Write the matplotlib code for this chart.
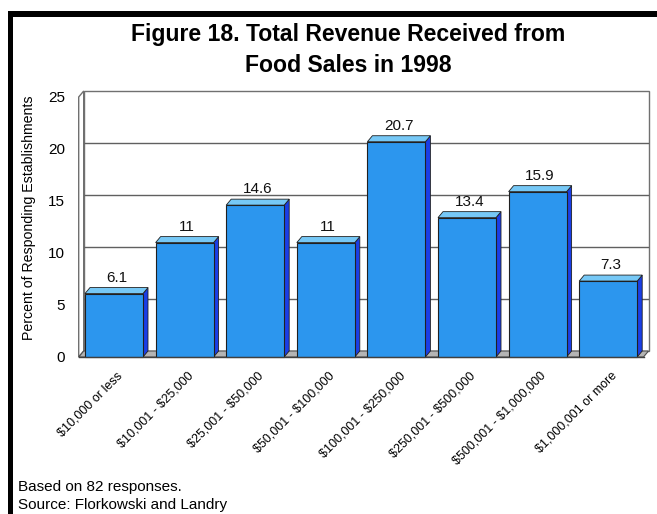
import matplotlib
matplotlib.use("Agg")
import matplotlib.pyplot as plt
from matplotlib.patches import Polygon, Rectangle

plt.rcParams['font.family'] = ['Liberation Sans', 'DejaVu Sans']
plt.rcParams['text.parse_math'] = False

categories = ["$10,000 or less", "$10,001 - $25,000", "$25,001 - $50,000",
              "$50,001 - $100,000", "$100,001 - $250,000", "$250,001 - $500,000",
              "$500,001 - $1,000,000", "$1,000,001 or more"]
values = [6.1, 11, 14.6, 11, 20.7, 13.4, 15.9, 7.3]
value_labels = ["6.1", "11", "14.6", "11", "20.7", "13.4", "15.9", "7.3"]
yticks = [0, 5, 10, 15, 20, 25]

W, H = 657, 514
fig = plt.figure(figsize=(W / 100, H / 100), dpi=100)

# axes = front plane of the 3-D box
left_px, right_px, bot_px, top_px = 78.7, 643.5, 357, 86.6
ax = fig.add_axes([left_px / W, 1 - bot_px / H, (right_px - left_px) / W, (bot_px - top_px) / H])
x0, x1 = -0.5, len(values) - 0.5
ymax = 26
ax.set_xlim(x0, x1)
ax.set_ylim(0, ymax)
for s in ax.spines.values():
    s.set_visible(False)
ax.patch.set_visible(False)

# depth offset in data units
dx = 5 / ((right_px - left_px) / len(values))
dy = 6 / ((bot_px - top_px) / ymax)
top = yticks[-1]

# back wall with gridlines
ax.add_patch(Rectangle((x0 + dx, dy), x1 - x0, top, facecolor="white",
                       edgecolor="#707070", lw=1, clip_on=False, zorder=1))
for t in yticks[1:-1]:
    ax.plot([x0 + dx, x1 + dx], [t + dy, t + dy], color="#606060", lw=1,
            clip_on=False, zorder=1.5)
# left wall
ax.add_patch(Polygon([(x0, 0), (x0 + dx, dy), (x0 + dx, top + dy), (x0, top)],
                     closed=True, facecolor="white", edgecolor="#707070", lw=1,
                     clip_on=False, zorder=1.6))
# floor
ax.add_patch(Polygon([(x0, 0), (x1, 0), (x1 + dx, dy), (x0 + dx, dy)],
                     closed=True, facecolor="#b4b4b4", edgecolor="#505050", lw=0.8,
                     clip_on=False, zorder=2))

front_c = "#2c96ee"
top_c = "#76c8f6"
side_c = "#1a3ee6"
w = 58 / ((right_px - left_px) / len(values))
for i, v in enumerate(values):
    l, r = i - w / 2, i + w / 2
    ax.add_patch(Polygon([(r, 0), (r + dx, dy), (r + dx, v + dy), (r, v)], closed=True,
                         facecolor=side_c, edgecolor="#202020", lw=0.6, clip_on=False, zorder=3))
    ax.add_patch(Polygon([(l, v), (r, v), (r + dx, v + dy), (l + dx, v + dy)], closed=True,
                         facecolor=top_c, edgecolor="#202020", lw=0.6, clip_on=False, zorder=3))
    ax.add_patch(Rectangle((l, 0), w, v, facecolor=front_c, edgecolor="#202020",
                           lw=0.8, clip_on=False, zorder=4))
    ax.annotate(value_labels[i], (i + dx / 2, v + dy), xytext=(0, 2),
                textcoords="offset points", ha="center", va="bottom",
                fontsize=11, color="#111111", zorder=5)

# front bottom edge
ax.plot([x0, x1], [0, 0], color="#404040", lw=1, clip_on=False, zorder=4.5)

ax.set_yticks(yticks)
ax.set_yticklabels([str(t) for t in yticks], fontsize=11)
ax.tick_params(axis="y", length=0, pad=10)
ax.set_xticks([i + dx / 2 for i in range(len(values))])
ax.set_xticklabels(categories, rotation=45, ha="right", va="top",
                   rotation_mode="anchor", fontsize=9)
ax.tick_params(axis="x", length=0, pad=9)

fig.text(29 / W, 1 - 218 / H, "Percent of Responding Establishments", rotation=90,
         ha="center", va="center", fontsize=10.2)

fig.text(348 / W, 1 - 50 / H, "Figure 18. Total Revenue Received from\nFood Sales in 1998",
         ha="center", va="center", fontsize=16.6, fontweight="bold", linespacing=1.42)

fig.text(18 / W, 1 - 487 / H, "Based on 82 responses.", ha="left", va="center", fontsize=11)
fig.text(18 / W, 1 - 505 / H, "Source: Florkowski and Landry", ha="left", va="center", fontsize=11)

# black frame on the top and left
fig.patches.append(Rectangle((8 / W, 0), 5 / W, 1 - 11 / H, transform=fig.transFigure,
                             facecolor="black", edgecolor="none"))
fig.patches.append(Rectangle((8 / W, 1 - 16.7 / H), 1 - 8 / W, 5.7 / H, transform=fig.transFigure,
                             facecolor="black", edgecolor="none"))

fig.savefig("out.png", dpi=100)
